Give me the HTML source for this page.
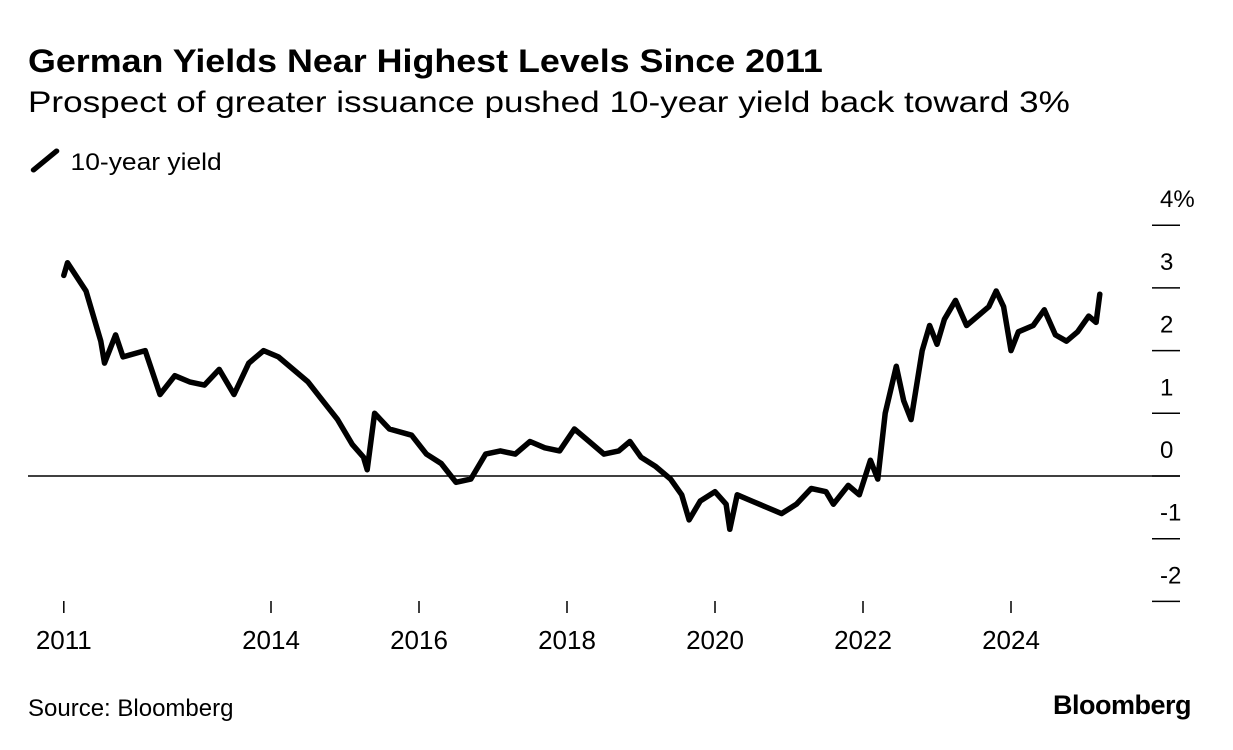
<!DOCTYPE html>
<html><head><meta charset="utf-8"><style>
body{margin:0;background:#fff;font-family:"Liberation Sans",sans-serif;color:#000}
#wrap{position:relative;width:1233px;height:750px;overflow:hidden}
.t{position:absolute;white-space:nowrap;transform-origin:left center}
</style></head><body><div id="wrap">
<div class="t" style="left:28px;top:43px;font-size:32px;font-weight:bold;transform:scaleX(1.12)">German Yields Near Highest Levels Since 2011</div>
<div class="t" style="left:28px;top:86px;font-size:30px;transform:scaleX(1.17)">Prospect of greater issuance pushed 10-year yield back toward 3%</div>
<div class="t" style="left:28px;top:147px;font-size:24px;transform:scaleX(1.1)"><svg width="32" height="28" style="vertical-align:-5px"><line x1="5" y1="23" x2="26" y2="4" stroke="#000" stroke-width="5" stroke-linecap="round"/></svg> 10-year yield</div>
<svg id="chart" width="1233" height="750" style="position:absolute;left:0;top:0"></svg>
<div class="t" style="left:28px;top:695px;font-size:24px">Source: Bloomberg</div>
<div class="t" style="left:1053px;top:690px;font-size:27px;font-weight:bold;letter-spacing:-0.5px">Bloomberg</div>
</div>
<script>
const years=[2011.2,2011.25,2011.5,2011.7,2011.75,2011.9,2012.0,2012.3,2012.5,2012.7,2012.9,2013.1,2013.3,2013.5,2013.7,2013.9,2014.1,2014.3,2014.5,2014.7,2014.9,2015.1,2015.25,2015.3,2015.4,2015.6,2015.9,2016.1,2016.3,2016.5,2016.7,2016.9,2017.1,2017.3,2017.5,2017.7,2017.9,2018.1,2018.3,2018.5,2018.7,2018.85,2019.0,2019.2,2019.4,2019.55,2019.65,2019.8,2020.0,2020.15,2020.2,2020.3,2020.5,2020.7,2020.9,2021.1,2021.3,2021.5,2021.6,2021.8,2021.95,2022.1,2022.2,2022.3,2022.45,2022.55,2022.65,2022.8,2022.9,2023.0,2023.1,2023.25,2023.4,2023.55,2023.7,2023.8,2023.9,2024.0,2024.1,2024.3,2024.45,2024.6,2024.75,2024.9,2025.05,2025.15,2025.2];
const yields=[3.2,3.4,2.95,2.15,1.8,2.25,1.9,2.0,1.3,1.6,1.5,1.45,1.7,1.3,1.8,2.0,1.9,1.7,1.5,1.2,0.9,0.5,0.3,0.1,1.0,0.75,0.65,0.35,0.2,-0.1,-0.05,0.35,0.4,0.35,0.55,0.45,0.4,0.75,0.55,0.35,0.4,0.55,0.3,0.15,-0.05,-0.3,-0.7,-0.4,-0.25,-0.45,-0.85,-0.3,-0.4,-0.5,-0.6,-0.45,-0.2,-0.25,-0.45,-0.15,-0.3,0.25,-0.05,1.0,1.75,1.2,0.9,2.0,2.4,2.1,2.5,2.8,2.4,2.55,2.7,2.95,2.7,2.0,2.3,2.4,2.65,2.25,2.15,2.3,2.55,2.45,2.9];
const yTicks=[4,3,2,1,0,-1,-2];
const yTickLabels=["4%","3","2","1","0","-1","-2"];
const xTicks=[2011.2,2014,2016,2018,2020,2022,2024];
const xTickLabels=["2011","2014","2016","2018","2020","2022","2024"];
const NS="http://www.w3.org/2000/svg";
const svg=document.getElementById('chart');
const X=v=>49+(v-2011)*74;
const Y=v=>476-v*62.7;
function mk(tag,attrs){const e=document.createElementNS(NS,tag);for(const k in attrs)e.setAttribute(k,attrs[k]);svg.appendChild(e);return e;}
yTicks.forEach((v,i)=>{
  const l=mk('line',{x1:1152,x2:1180,y1:Y(v),y2:Y(v),stroke:'#000','stroke-width':1.5});
  
  
  const t=mk('text',{x:1160,y:Y(v)-18,'font-size':24,'font-family':'Liberation Sans, sans-serif'});
  t.textContent=yTickLabels[i];
  
  
});
const z=mk('line',{x1:28,x2:1180,y1:Y(0),y2:Y(0),stroke:'#000','stroke-width':1.5});


xTicks.forEach((v,i)=>{
  const l=mk('line',{x1:X(v),x2:X(v),y1:601,y2:613,stroke:'#000','stroke-width':1.5});
  
  
  const t=mk('text',{x:X(v),y:649,'text-anchor':'middle','font-size':26,'font-family':'Liberation Sans, sans-serif'});
  t.textContent=xTickLabels[i];
  
  
});
const p=mk('path',{d:years.map((v,i)=>(i?'L':'M')+X(v).toFixed(1)+','+Y(yields[i]).toFixed(1)).join(''),fill:'none',stroke:'#000','stroke-width':5.5,'stroke-linejoin':'round','stroke-linecap':'round'});


</script></body></html>
